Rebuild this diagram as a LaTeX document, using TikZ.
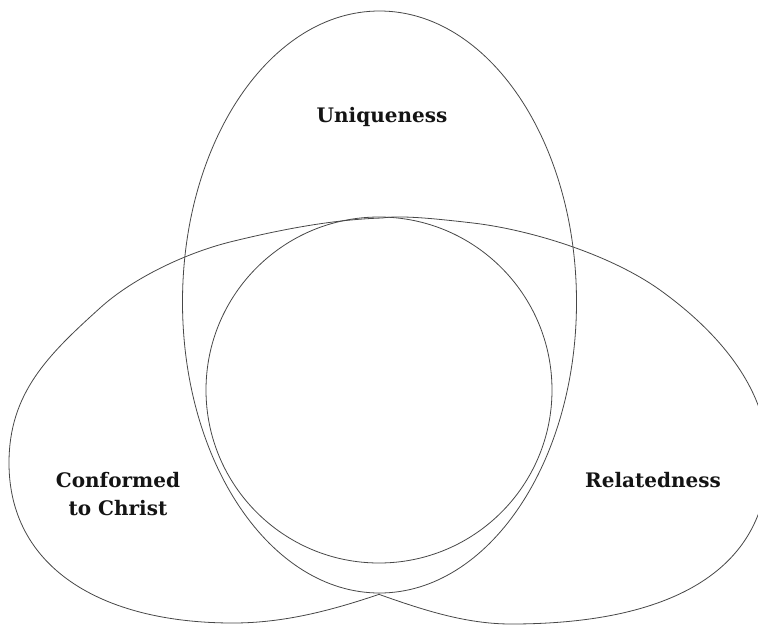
\documentclass[tikz,border=0pt]{standalone}
\usepackage{fontspec}
\setmainfont{DejaVu Serif}
\begin{document}
\begin{tikzpicture}[x=1pt,y=-1pt,
  outline/.style={draw=black!72,line width=0.8pt},
  lbl/.style={font=\bfseries\fontsize{20}{28}\selectfont,text=black!92,inner sep=0pt,align=center}]
\useasboundingbox (0,0) rectangle (758,625);
% top ellipse
\draw[outline] (379.5,302) ellipse [x radius=197, y radius=291];
% centre circle
\draw[outline] (379,390) circle [radius=173];
% left shape
\coordinate (lA) at (380,594);
\coordinate (lB) at (233,623);
\coordinate (lC) at (9,463);
\coordinate (lE) at (100,308);
\coordinate (lF) at (230,242);
\coordinate (lD) at (382,218);
\draw[outline] (lA) .. controls (330,611) and (283,623) .. (lB)
  .. controls (99,623) and (9,566) .. (lC)
  .. controls (9,393) and (48,355) .. (lE)
  .. controls (133,278) and (186,253) .. (lF)
  .. controls (278.5,230) and (332,219.5) .. (lD);
% right shape
\coordinate (rA) at (378,594);
\coordinate (rB) at (511,624);
\coordinate (rR) at (768,458);
\coordinate (rG) at (660,290);
\coordinate (rH) at (473,223);
\draw[outline] (rA) .. controls (423,610) and (466,624) .. (rB)
  .. controls (678,624) and (768,566) .. (rR)
  .. controls (768,388) and (717,331) .. (rG)
  .. controls (611,255) and (532,230) .. (rH)
  .. controls (438,219) and (402,215) .. (lD);
% labels
\node[lbl,anchor=base] (uniq) at (382,122) {Uniqueness};
\node[lbl,anchor=base] (rel) at (653,487) {Relatedness};
\node[lbl,anchor=base] (conf) at (118,515) {Conformed\\to Christ};
\end{tikzpicture}
\end{document}
